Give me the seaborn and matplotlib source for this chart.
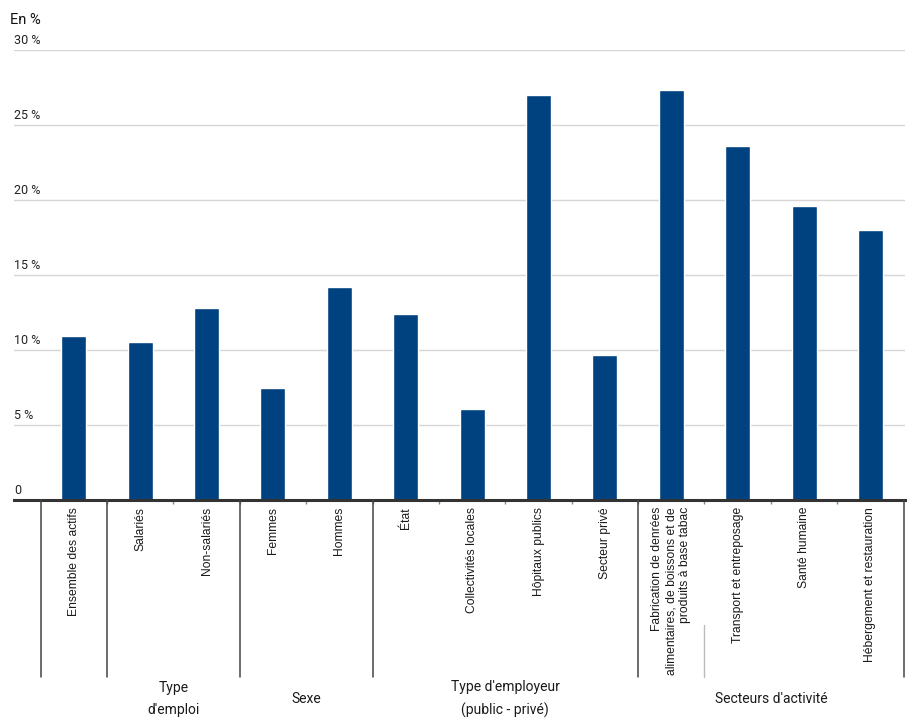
import matplotlib
matplotlib.use("Agg")
import matplotlib.pyplot as plt
import matplotlib.transforms as mtransforms
import pandas as pd
import seaborn as sns

categories = [
    "Ensemble des actifs", "Salariés", "Non-salariés", "Femmes", "Hommes",
    "État", "Collectivités locales", "Hôpitaux publics", "Secteur privé",
    "Fabrication de denrées\nalimentaires, de boissons et de\nproduits à base tabac",
    "Transport et entreposage", "Santé humaine", "Hébergement et restauration",
]
values = [10.9, 10.55, 12.8, 7.5, 14.2, 12.4, 6.1, 27.0, 9.7, 27.3, 23.6, 19.6, 18.0]

groups = ["", "Type\nd'emploi", "Sexe", "Type d'employeur\n(public - privé)", "Secteurs d'activité"]
group_bounds = [(0, 0), (1, 2), (3, 4), (5, 8), (9, 12)]

yticks = [0, 5, 10, 15, 20, 25, 30]
ytick_labels = ["0", "5 %", "10 %", "15 %", "20 %", "25 %", "30 %"]

df = pd.DataFrame({"categorie": categories, "valeur": values})

sns.set_theme(style="white")
plt.rcParams["font.family"] = ["Roboto", "DejaVu Sans"]

fig = plt.figure(figsize=(9.21, 7.26), dpi=100)
ax = fig.add_axes([14 / 921, (726 - 500) / 726, 891 / 921, 450 / 726])

sns.barplot(data=df, x="categorie", y="valeur", order=categories,
            color="#00427f", width=0.377, saturation=1, ax=ax, zorder=3)

ax.set_xlim(-0.9, 12.52)
ax.set_ylim(0, 30)
ax.set_xlabel("")
ax.set_ylabel("")

for s in ["top", "right", "left"]:
    ax.spines[s].set_visible(False)
ax.spines["bottom"].set_color("#333333")
ax.spines["bottom"].set_linewidth(2.2)
ax.spines["bottom"].set_zorder(4)

# grid
ax.set_yticks(yticks)
ax.set_yticklabels([])
ax.tick_params(axis="y", length=0)
for v in yticks[1:]:
    ax.axhline(v, color="#d6d6d6", lw=1, zorder=1)

# y labels sitting above the gridlines
trans_y = mtransforms.blended_transform_factory(ax.transAxes, ax.transData)
for v, lab in zip(yticks, ytick_labels):
    ax.annotate(lab, xy=(0, v), xycoords=trans_y, xytext=(0, 2.5),
                textcoords="offset points", ha="left", va="bottom",
                fontsize=9, color="#222222")

fig.text(10 / 921, 1 - 20 / 726, "En %", ha="left", va="center",
         fontsize=10.5, color="#111111")

# category tick labels
ax.set_xticks(range(len(categories)))
ax.set_xticklabels(categories, rotation=90, fontsize=8.7, color="#1a1a1a",
                   ha="center", va="top", multialignment="right",
                   family=["Liberation Sans", "DejaVu Sans"])
ax.tick_params(axis="x", length=0, pad=5)

# small ticks at category boundaries
ax.set_xticks([i + 0.5 for i in range(len(categories) - 1)], minor=True)
ax.tick_params(axis="x", which="minor", length=3, width=1, color="#888888",
               direction="out", bottom=True)

# group separators and labels
trans_x = mtransforms.blended_transform_factory(ax.transData, ax.transAxes)
y_low = -177 / 450
seps = [-0.5] + [b[1] + 0.5 for b in group_bounds]
for xs in seps:
    ax.plot([xs, xs], [0, y_low], transform=trans_x, color="#444444",
            lw=1.1, clip_on=False, zorder=5)
ax.plot([9.5, 9.5], [-125 / 450, y_low], transform=trans_x, color="#bbbbbb",
        lw=1, clip_on=False)

for name, (a, b) in zip(groups, group_bounds):
    if not name:
        continue
    ax.text((a + b) / 2, -199 / 450, name, transform=trans_x, ha="center",
            va="center", fontsize=10, color="#1a1a1a", linespacing=1.7)

fig.savefig("out.png", dpi=100)
